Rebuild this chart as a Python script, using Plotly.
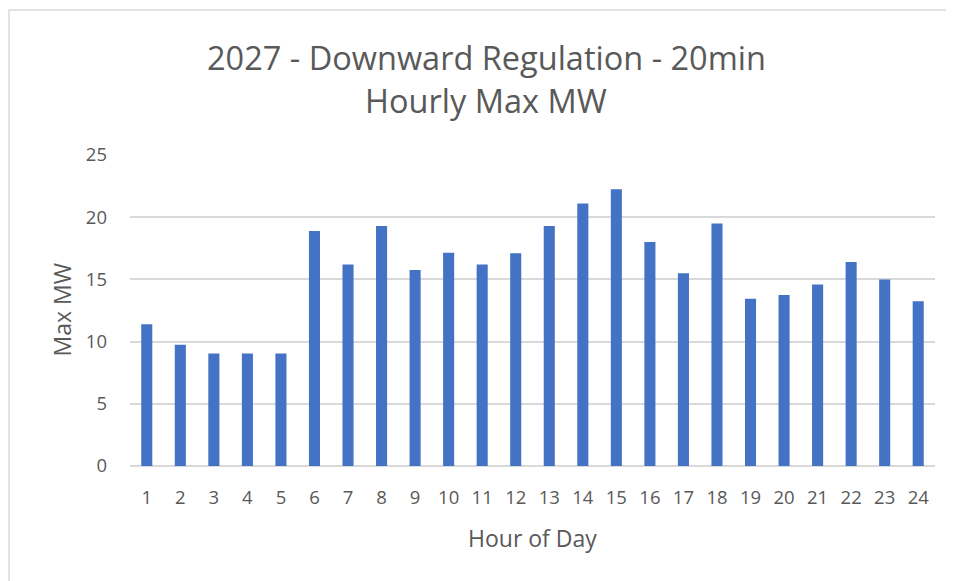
import plotly.graph_objects as go

hours = [str(h) for h in range(1, 25)]
max_mw = [11.4, 9.75, 9.05, 9.05, 9.05, 18.9, 16.2, 19.3, 15.75, 17.15, 16.2, 17.1,
          19.3, 21.1, 22.25, 18.0, 15.5, 19.5, 13.45, 13.75, 14.6, 16.4, 15.0, 13.25]
y_ticks = [0, 5, 10, 15, 20, 25]
title_lines = ["2027 - Downward Regulation - 20min", "Hourly Max MW"]
x_title = "Hour of Day"
y_title = "Max MW"

# page has an 8px body margin; figure fills the rest of the window
W, H = 946, 573
L, R, T, B = 122, 19, 147, 115
pw, ph = W - L - R, H - T - B

GREY = "#595959"
FONT = "'Open Sans', sans-serif"

fig = go.Figure(go.Bar(x=hours, y=max_mw, marker=dict(color="#4472C4", line=dict(width=0))))


def px_x(v):
    return (v - L) / pw


def px_y(v):
    return (H - B - v) / ph


annotations = [
    dict(text=title_lines[0], x=px_x(478), y=px_y(49), xref="paper", yref="paper",
         xanchor="center", yanchor="middle", showarrow=False, font=dict(size=32.5, color=GREY)),
    dict(text=title_lines[1], x=px_x(478), y=px_y(92), xref="paper", yref="paper",
         xanchor="center", yanchor="middle", showarrow=False, font=dict(size=32.5, color=GREY)),
    dict(text=x_title, x=0.5, y=px_y(530), xref="paper", yref="paper",
         xanchor="center", yanchor="middle", showarrow=False, font=dict(size=23, color=GREY)),
    dict(text=y_title, x=px_x(53), y=0.5, xref="paper", yref="paper", textangle=-90,
         xanchor="center", yanchor="middle", showarrow=False, font=dict(size=23, color=GREY)),
]

fig.update_layout(
    width=W, height=H,
    margin=dict(l=L, r=R, t=T, b=B),
    paper_bgcolor="white", plot_bgcolor="white",
    bargap=0.67,
    showlegend=False,
    font=dict(family=FONT, color=GREY, size=18),
    annotations=annotations,
    xaxis=dict(type="category", showgrid=False, showline=False, ticks="",
               ticklabelstandoff=18,
               tickfont=dict(size=18.5, color=GREY)),
    yaxis=dict(range=[0, 25], tickvals=y_ticks, showgrid=True, gridcolor="#D9D9D9", gridwidth=1.5,
               zeroline=True, zerolinecolor="#D9D9D9", zerolinewidth=1.5, showline=False, ticks="",
               ticklabelstandoff=22,
               tickfont=dict(size=18.5, color=GREY)),
    shapes=[dict(type="rect", xref="paper", yref="paper",
                 x0=px_x(1), x1=px_x(942), y0=px_y(600), y1=px_y(2),
                 line=dict(color="#D9D9D9", width=1.5), fillcolor="rgba(0,0,0,0)", layer="below")],
)

fig.write_html("out.html")
